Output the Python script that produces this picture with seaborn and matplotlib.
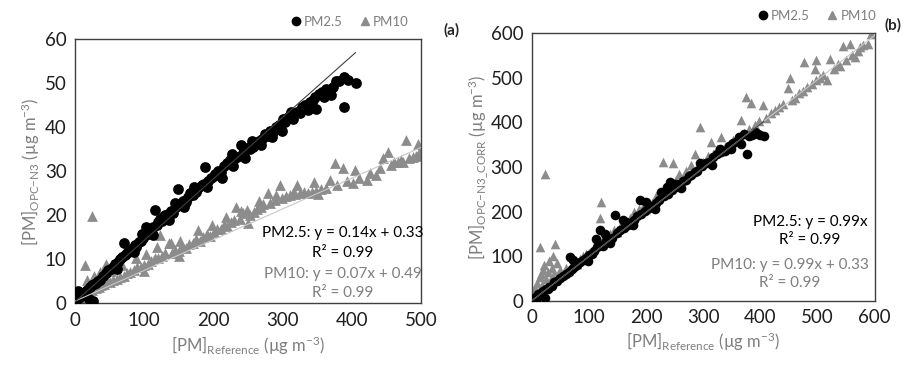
import numpy as np
import pandas as pd
import seaborn as sns
import matplotlib.pyplot as plt
from matplotlib.lines import Line2D

sns.set_style("white")
plt.rcParams['font.family'] = ['Lato', 'DejaVu Sans']
plt.rcParams['mathtext.fontset'] = 'custom'
plt.rcParams['mathtext.rm'] = 'Lato'
plt.rcParams['mathtext.it'] = 'Lato'

# --- панель (a): сырые данные OPC-N3 ---
a_pm25 = [(2, 0.8), (3, 2.2), (4, 1.5), (5, 2.8), (6, 1.2), (8, 1.8), (10, 2.0), (12, 2.4), (15, 2.6),
          (18, 3.0), (20, 0.9), (22, 3.6), (25, 4.2), (26, 0.5), (28, 4.4), (30, 4.6), (33, 5.0), (36, 5.4),
          (40, 6.2), (45, 6.8), (48, 7.5), (52, 7.9), (55, 8.3), (58, 8.9), (62, 9.4), (65, 10.0),
          (68, 10.5), (70, 13.6), (72, 11.0), (75, 11.4), (78, 12.2), (80, 11.8), (83, 12.6), (86, 13.2),
          (88, 12.9), (92, 14.0), (95, 14.2), (98, 14.8), (100, 15.3), (103, 17.4), (105, 15.8),
          (108, 16.2), (110, 16.9), (113, 17.3), (116, 21.2), (118, 17.8), (120, 18.5), (123, 19.1),
          (126, 18.8), (130, 20.0), (134, 20.4), (138, 21.0), (141, 20.6), (144, 22.7), (146, 21.8),
          (149, 26.1), (152, 22.6), (156, 23.2), (160, 23.0), (163, 24.1), (166, 25.0), (170, 24.6),
          (174, 25.4), (178, 26.2), (183, 26.9), (186, 27.1), (188, 31.0), (192, 27.8), (196, 28.4),
          (200, 29.0), (202, 29.5), (206, 30.0), (210, 29.8), (215, 31.2), (220, 31.8), (224, 32.6),
          (226, 34.0), (230, 32.9), (234, 33.2), (239, 36.0), (243, 34.1), (248, 35.2), (252, 35.0),
          (257, 35.6), (261, 36.4), (265, 37.0), (270, 37.4), (274, 38.6), (278, 38.0), (282, 39.2),
          (286, 39.0), (290, 40.0), (295, 40.5), (300, 42.0), (303, 41.3), (308, 42.4), (315, 42.0),
          (320, 43.4), (327, 44.7), (332, 45.0), (339, 45.8), (343, 46.2), (348, 44.1), (352, 47.6),
          (356, 48.0), (362, 48.8), (368, 48.3), (370, 47.3), (376, 50.6), (381, 50.5), (388, 51.4),
          (388, 44.7), (394, 50.8), (405, 50.2),
          # разброс вокруг основной полосы
          (60, 7.8), (85, 11.6), (96, 15.8), (112, 15.6), (128, 19.8), (136, 18.9), (158, 21.8),
          (172, 26.5), (190, 26.4), (212, 28.6), (228, 31.2), (245, 33.0), (255, 36.8), (268, 36.0),
          (284, 37.8), (298, 39.2), (312, 43.6), (325, 43.2), (336, 44.0), (346, 47.0), (360, 47.0),
          (372, 49.2)]
a_pm10 = [(1, 0.5), (3, 1.0), (5, 0.8), (7, 1.4), (10, 1.5), (12, 1.8), (14, 8.7), (15, 2.2), (18, 2.0),
          (20, 2.8), (22, 3.5), (24, 19.8), (25, 3.0), (28, 4.5), (30, 3.4), (33, 5.5), (35, 3.8),
          (38, 4.2), (40, 6.0), (42, 4.5), (45, 9.0), (46, 5.2), (50, 4.8), (55, 5.2), (60, 5.6),
          (65, 6.0), (70, 6.3), (75, 6.8), (80, 7.2), (85, 7.5), (90, 8.3), (95, 8.2), (100, 8.8),
          (105, 9.0), (110, 9.6), (115, 10.2), (118, 12.9), (120, 10.4), (123, 15.5), (126, 10.8),
          (130, 11.4), (135, 13.6), (140, 11.5), (145, 12.2), (150, 12.0), (155, 13.0), (160, 12.6),
          (165, 13.5), (170, 13.8), (175, 14.6), (180, 14.2), (185, 15.0), (190, 15.8), (195, 15.4),
          (200, 16.2), (205, 16.8), (210, 17.0), (215, 17.8), (220, 17.5), (225, 18.4), (230, 19.0),
          (233, 22.0), (238, 19.2), (243, 20.5), (248, 21.2), (252, 20.0), (258, 20.8), (262, 21.5),
          (268, 21.8), (272, 22.6), (279, 25.0), (282, 22.8), (288, 23.5), (296, 26.9), (298, 24.0),
          (305, 24.3), (310, 24.6), (314, 25.0), (318, 24.8), (324, 25.1), (330, 25.2), (336, 25.0),
          (342, 25.4), (348, 25.6), (355, 26.0), (362, 26.2), (368, 28.0), (375, 31.8), (378, 27.0),
          (387, 30.7), (392, 27.7), (401, 27.3), (404, 30.3), (410, 28.4), (421, 28.0), (425, 29.6),
          (435, 29.2), (440, 30.8), (445, 33.0), (452, 34.5), (456, 31.4), (460, 32.2), (466, 32.2),
          (470, 32.6), (474, 32.2), (478, 37.1), (482, 33.0), (488, 33.2), (492, 33.6), (495, 36.2),
          (497, 34.0), (500, 35.0),
          (18, 5.2), (27, 6.3), (36, 7.2), (52, 7.4), (68, 8.6), (88, 10.4), (102, 11.2), (138, 13.8),
          (152, 14.2), (178, 16.6), (198, 17.8), (218, 19.6), (240, 21.0), (265, 23.2), (290, 24.6),
          (320, 26.8), (345, 27.6), (100, 7.4), (150, 10.8), (250, 18.2), (350, 24.8)]

# --- панель (b): скорректированные данные ---
b_pm25 = [(2, 3), (4, 8), (5, 0), (7, 5), (8, 10), (10, 12), (12, 15), (15, 14), (18, 20), (20, 22),
          (23, 6), (25, 28), (28, 26), (30, 32), (35, 34), (40, 42), (45, 44), (50, 52), (55, 56),
          (60, 60), (65, 66), (67, 99), (70, 72), (75, 76), (80, 80), (85, 88), (90, 92), (95, 96),
          (100, 104), (105, 106), (110, 112), (115, 120), (119, 159), (122, 126), (125, 124), (130, 134),
          (135, 136), (140, 142), (146, 192), (150, 152), (155, 158), (160, 181), (162, 164), (168, 170),
          (175, 178), (180, 182), (185, 190), (189, 226), (192, 194), (198, 202), (205, 208), (210, 212),
          (218, 220), (222, 226), (227, 244), (232, 236), (238, 240), (242, 267), (246, 248), (252, 256),
          (258, 262), (265, 268), (270, 272), (278, 282), (285, 288), (290, 292), (298, 302), (305, 308),
          (310, 312), (318, 322), (325, 328), (332, 334), (338, 336), (345, 346), (352, 354), (360, 358),
          (367, 352), (372, 374), (376, 329), (381, 369), (385, 372), (390, 378), (395, 374), (400, 372),
          (406, 369),
          (72, 92), (98, 90), (112, 140), (128, 150), (138, 130), (165, 178), (178, 170), (200, 222),
          (215, 205), (236, 256), (250, 262), (262, 252), (275, 280), (295, 310), (315, 305), (330, 340),
          (348, 340), (362, 366)]
b_pm10 = [(1, 2), (3, 5), (5, 10), (6, 30), (8, 20), (10, 40), (12, 15), (14, 55), (15, 121), (16, 60),
          (18, 35), (20, 70), (22, 80), (23, 285), (25, 50), (28, 65), (30, 90), (32, 45), (35, 75),
          (38, 100), (40, 60), (41, 127), (44, 85), (46, 55), (50, 70), (55, 60), (60, 75), (65, 70),
          (70, 80), (75, 85), (80, 82), (85, 95), (90, 100), (95, 105), (100, 108), (105, 110),
          (110, 118), (115, 135), (119, 185), (122, 222), (125, 140), (130, 138), (138, 150), (145, 160),
          (150, 155), (158, 175), (165, 178), (172, 185), (180, 200), (188, 205), (195, 210), (200, 205),
          (210, 220), (218, 235), (225, 240), (230, 311), (236, 250), (242, 262), (247, 308), (252, 270),
          (258, 285), (265, 275), (270, 290), (278, 305), (285, 330), (290, 300), (294, 390), (300, 312),
          (308, 325), (314, 356), (318, 330), (325, 340), (332, 367), (338, 345), (345, 352), (352, 360),
          (360, 365), (367, 405), (372, 375), (375, 457), (380, 385), (384, 442), (390, 395), (398, 402),
          (405, 438), (410, 410), (418, 420), (425, 428), (432, 435), (440, 440), (448, 476), (451, 498),
          (455, 450), (460, 455), (468, 465), (475, 470), (477, 535), (482, 478), (490, 485), (495, 520),
          (498, 539), (498, 494), (505, 500), (510, 505), (516, 494), (521, 542), (528, 520), (535, 530),
          (540, 525), (544, 571), (550, 540), (556, 576), (560, 550), (565, 545), (570, 560), (575, 569),
          (580, 572), (588, 576), (594, 598)]

# линии тренда: (наклон, сдвиг, x_max)
a_fit25 = (0.14, 0.33, 405)
a_fit10 = (0.07, 0.49, 500)
b_fit25 = (0.99, 0.0, 406)
b_fit10 = (0.99, 0.33, 600)

a_text = ["PM2.5: y = 0.14x + 0.33", "R² = 0.99", "PM10: y = 0.07x + 0.49", "R² = 0.99"]
b_text = ["PM2.5: y = 0.99x", "R² = 0.99", "PM10: y = 0.99x + 0.33", "R² = 0.99"]

GRAY = '#8c8c8c'
TXT_GRAY = '#7f7f7f'

fig = plt.figure(figsize=(9.07, 3.65), dpi=100)
ax1 = fig.add_axes([0.0827, 0.169, 0.382, 0.723])
ax2 = fig.add_axes([0.586, 0.175, 0.3785, 0.735])


def draw(ax, pm25, pm10, fit25, fit10, lim, step, size):
    d25 = pd.DataFrame(pm25, columns=['x', 'y'])
    d10 = pd.DataFrame(pm10, columns=['x', 'y'])
    sns.scatterplot(data=d10, x='x', y='y', marker='^', color=GRAY, s=size, linewidth=0, ax=ax, zorder=2)
    sns.scatterplot(data=d25, x='x', y='y', marker='o', color='black', s=size, linewidth=0, ax=ax, zorder=3)
    for (k, b, xm), c in [(fit10, '#c8c8c8'), (fit25, '#404040')]:
        xs = np.array([0, xm])
        ax.plot(xs, k * xs + b, color=c, lw=0.8, zorder=4)
    ax.set_xlim(0, lim[0])
    ax.set_ylim(0, lim[1])
    ax.set_xticks(np.arange(0, lim[0] + 1, step[0]))
    ax.set_yticks(np.arange(0, lim[1] + 1, step[1]))
    ax.tick_params(length=0, labelsize=13.5, labelcolor='#1f1f1f', pad=6)
    for sp in ax.spines.values():
        sp.set_color('#404040')
        sp.set_linewidth(1.0)


draw(ax1, a_pm25, a_pm10, a_fit25, a_fit10, (500, 60), (100, 10), 60)
draw(ax2, b_pm25, b_pm10, b_fit25, b_fit10, (600, 600), (100, 100), 48)

ax1.set_xlabel(r'[PM]$_{\mathregular{Reference}}$ (µg m$^{-3}$)', fontsize=12, color=TXT_GRAY, labelpad=4)
ax1.set_ylabel(r'[PM]$_{\mathregular{OPC{-}N3}}$ (µg m$^{-3}$)', fontsize=12, color=TXT_GRAY, labelpad=2)
ax2.set_xlabel(r'[PM]$_{\mathregular{Reference}}$ (µg m$^{-3}$)', fontsize=12, color=TXT_GRAY, labelpad=3)
ax2.set_ylabel(r'[PM]$_{\mathregular{OPC{-}N3\_CORR}}$ (µg m$^{-3}$)', fontsize=12, color=TXT_GRAY, labelpad=0)

# подписи уравнений
for ys, t, c in zip([0.266, 0.19, 0.111, 0.039], a_text, ['black', 'black', TXT_GRAY, TXT_GRAY]):
    ax1.text(0.773, ys, t, transform=ax1.transAxes, ha='center', va='center', fontsize=11, color=c, zorder=5)
for xs, ys, t, c in zip([0.811, 0.811, 0.753, 0.753], [0.294, 0.227, 0.134, 0.067], b_text,
                        ['black', 'black', TXT_GRAY, TXT_GRAY]):
    ax2.text(xs, ys, t, transform=ax2.transAxes, ha='center', va='center', fontsize=11, color=c, zorder=5)

handles = [Line2D([], [], marker='o', color='black', ls='', markersize=6),
           Line2D([], [], marker='^', color=GRAY, ls='', markersize=6)]
for bx, by in [(0.385, 0.94), (0.90, 0.956)]:
    fig.legend(handles, ['PM2.5', 'PM10'], loc='center', bbox_to_anchor=(bx, by), ncol=2, frameon=False,
               fontsize=9.5, labelcolor=TXT_GRAY, handletextpad=0.1, columnspacing=1.2, handlelength=1)

fig.text(0.498, 0.918, '(a)', fontsize=11, fontweight='bold', ha='center', va='center')
fig.text(0.985, 0.93, '(b)', fontsize=11, fontweight='bold', ha='center', va='center')

fig.savefig('out.png', dpi=100)
